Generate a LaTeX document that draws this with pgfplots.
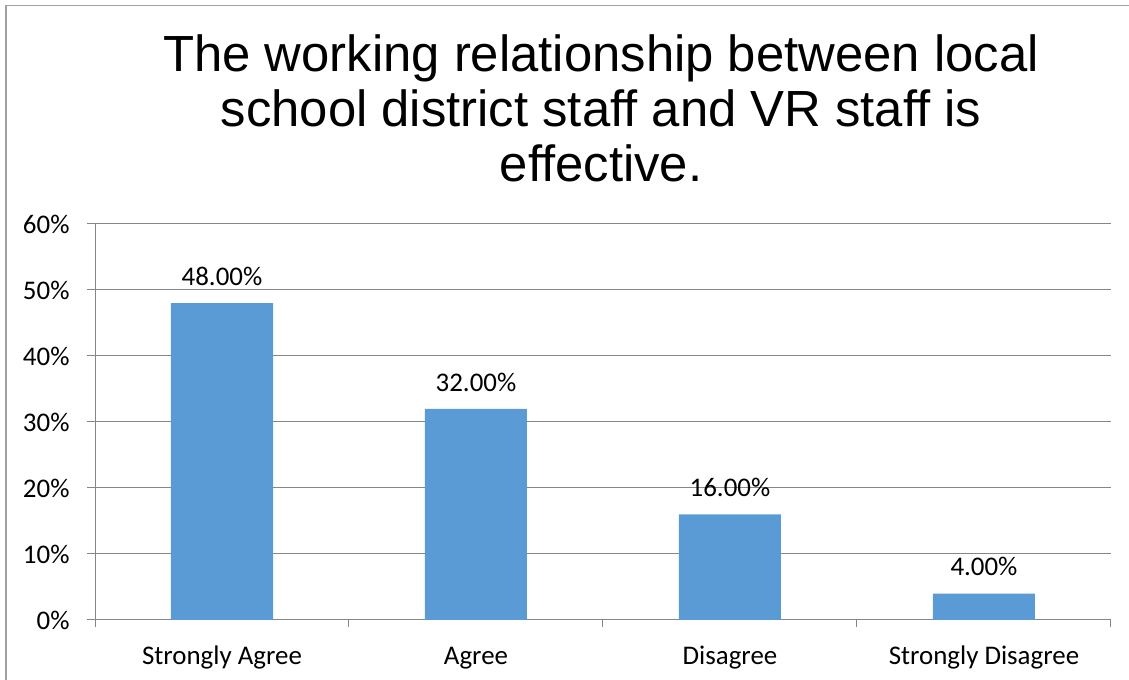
\documentclass[border=0pt]{standalone}
\usepackage{pgfplots}
\pgfplotsset{compat=1.18}
\usepackage{fontspec}
\setmainfont{Carlito}
\newfontfamily\titlefont{Liberation Sans}
\definecolor{barblue}{RGB}{91,155,213}
\definecolor{gridgray}{RGB}{134,134,134}
\definecolor{framegray}{RGB}{160,160,160}
\begin{document}
\begin{tikzpicture}[x=1bp,y=1bp]
\useasboundingbox (0,0) rectangle (1129,680);
\draw[framegray,line width=1.2bp] (6,0) -- (6,674.5) -- (1129,674.5);
\node[font=\titlefont\fontsize{51}{56}\selectfont,anchor=base] at (601,608) {The working relationship between local};
\node[font=\titlefont\fontsize{51}{56}\selectfont,anchor=base] at (601,553) {school district staff and VR staff is};
\node[font=\titlefont\fontsize{51}{56}\selectfont,anchor=base] at (601,498) {effective.};
\begin{axis}[
  at={(95bp,60bp)}, anchor=south west,
  scale only axis, width=1016bp, height=396bp,
  xmin=-0.5, xmax=3.5, ymin=0, ymax=60,
  xtick={0,1,2,3},
  xticklabels={Strongly Agree,Agree,Disagree,Strongly Disagree},
  minor xtick={-0.5,0.5,1.5,2.5,3.5},
  ytick={0,10,20,30,40,50,60},
  yticklabel={\pgfmathprintnumber{\tick}\%},
  tick align=outside,
  major tick length=8bp, minor tick length=7bp,
  major x tick style={draw=none},
  tick style={gridgray, line width=1bp},
  ymajorgrids, major grid style={gridgray, line width=1bp},
  axis x line*=bottom, axis y line*=left,
  axis line style={gridgray, line width=1bp, -},
  ticklabel style={font=\fontsize{27}{31}\selectfont, text=black},
  /pgf/number format/assume math mode=true,
  xticklabel style={yshift=-14bp, text height=19bp, text depth=6bp},
  yticklabel style={xshift=-14bp},
  ybar, bar width=102bp,
  nodes near coords={\pgfmathprintnumber[fixed,fixed zerofill,precision=2]{\pgfplotspointmeta}\%},
  nodes near coords style={font=\fontsize{27}{31}\selectfont, text=black, yshift=14bp},
  clip=false,
]
\addplot[fill=barblue, draw=none] coordinates {(0,48) (1,32) (2,16) (3,4)};
\end{axis}
\end{tikzpicture}
\end{document}
